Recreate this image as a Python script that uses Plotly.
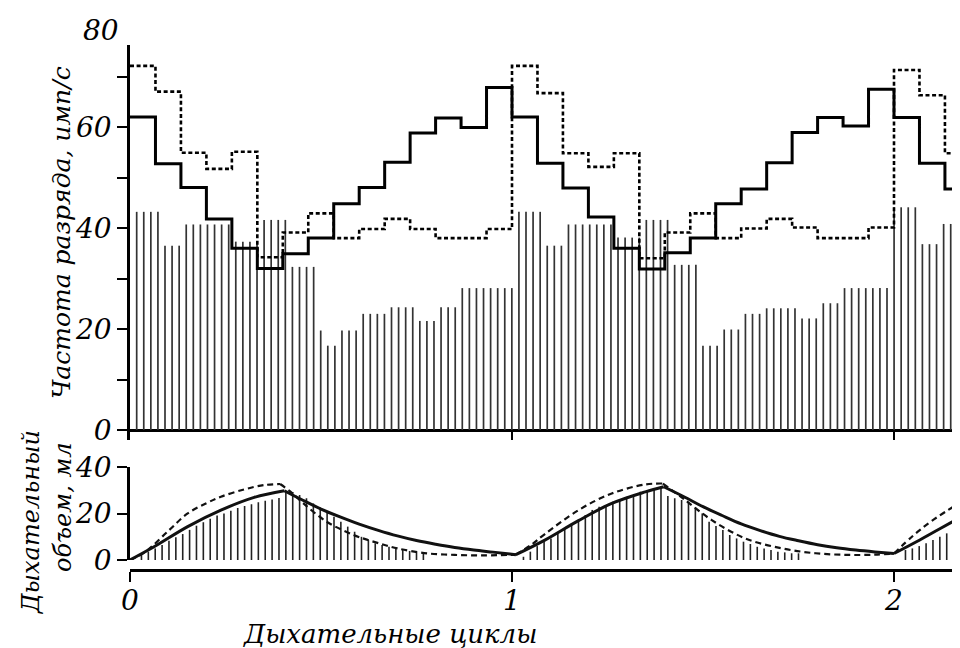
import plotly.graph_objects as go

# ---------------- data ----------------
cycle_ticks = [0, 1, 2]
rate_ticks = [0, 10, 20, 30, 40, 50, 60, 70]
rate_ticktext = ["0", "", "20", "", "40", "", "60", ""]
vol_ticks = [0, 20, 40]

bins_per_cycle = 15  # firing-rate bins per respiratory cycle

# firing rate (imp/s), solid step curve, bin by bin
rate_solid = [62.0, 52.7, 48.0, 41.8, 36.0, 32.0, 34.9, 38.0, 44.8, 48.0, 53.0, 58.8, 61.8, 59.9, 67.8,
              62.0, 52.8, 47.9, 42.2, 36.0, 31.9, 35.1, 38.0, 44.8, 47.7, 52.9, 58.9, 61.9, 60.2, 67.5,
              61.9, 52.8, 47.7]
# firing rate (imp/s), dotted step curve
rate_dotted = [72.1, 67.0, 54.9, 51.7, 55.1, 34.2, 39.1, 42.9, 38.0, 39.8, 41.8, 39.8, 38.0, 38.0, 39.8,
               72.1, 66.7, 54.8, 52.1, 54.8, 34.0, 39.1, 42.9, 38.0, 39.9, 41.8, 40.1, 38.0, 38.0, 40.1,
               71.3, 66.3, 54.8]

# hatched histogram: level of each run of hatch lines and number of lines in the run
spike_levels = [43.2, 36.5, 40.7, 37.3, 41.6, 32.3, 19.7, 16.7, 19.7, 23.0, 24.3, 21.6, 24.3, 28.1,
                43.2, 36.5, 40.7, 38.1, 41.6, 32.7, 16.7, 19.9, 23.0, 24.1, 22.1, 25.1, 28.1,
                44.1, 36.8, 40.8]
spike_counts = [4, 3, 7, 4, 4, 4, 1, 2, 3, 4, 4, 3, 3, 8,
                4, 3, 7, 4, 4, 4, 3, 3, 3, 5, 3, 3, 7,
                4, 3, 3]

# tidal volume hatch lines (ml), one list per respiratory cycle
vol_lines_c1 = [2.2, 3.6, 5.0, 6.5, 8.3, 9.8, 11.2, 13.0, 14.8, 16.3, 17.8, 19.2, 20.1, 21.2,
                22.4, 23.3, 24.1, 24.9, 25.6, 26.1, 26.8, 29.9, 29.3, 28.0, 26.6, 24.4, 22.7, 20.8,
                18.7, 16.5, 14.4, 12.2, 10.0, 8.6, 7.2, 6.5, 5.7, 5.0, 4.3, 3.9, 3.3, 2.9]
vol_lines_c2 = [1.4, 3.6, 6.0, 7.9, 9.3, 11.5, 13.7, 15.8, 17.2, 19.4, 21.6, 23.0, 23.7, 25.1,
                26.1, 27.3, 28.0, 29.4, 30.2, 30.9, 31.6, 27.6, 26.6, 25.9, 25.1, 22.7, 20.1, 16.5,
                14.7, 12.9, 10.8, 9.3, 7.9, 6.9, 5.7, 5.0, 4.3, 3.6, 3.3, 2.9, 2.9]
vol_lines_c3 = [4.3, 5.0, 6.0, 7.2, 8.6, 10.0, 11.5, 12.9]

# tidal volume curves (cycles, ml); None separates the phases (cusps at peaks / troughs)
vol_solid_x = [0.0, 0.063, 0.151, 0.238, 0.325, 0.404, None,
               0.404, 0.45, 0.5, 0.55, 0.6, 0.65, 0.7, 0.75, 0.8, 0.85, 0.9, 0.95, 1.01, None,
               1.01, 1.086, 1.174, 1.261, 1.349, 1.397, None,
               1.397, 1.45, 1.5, 1.55, 1.6, 1.65, 1.7, 1.75, 1.8, 1.85, 1.9, 1.95, 2.0, None,
               2.0, 2.06, 2.12, 2.18]
vol_solid_y = [0.0, 5.7, 14.4, 21.5, 27.0, 29.9, None,
               29.9, 26.0, 22.0, 18.6, 15.5, 12.8, 10.4, 8.4, 6.8, 5.4, 4.3, 3.4, 2.3, None,
               2.3, 8.6, 17.0, 24.4, 29.4, 31.6, None,
               31.6, 27.3, 23.0, 19.2, 15.6, 12.7, 10.2, 8.3, 6.6, 5.3, 4.3, 3.5, 2.8, None,
               2.8, 8.0, 13.5, 19.0]
vol_dashed_x = [0.0, 0.04, 0.1, 0.151, 0.2, 0.238, 0.3, 0.35, 0.393, None,
                0.393, 0.42, 0.454, 0.515, 0.585, 0.62, 0.66, 0.7, 0.77, 0.85, 0.93, 1.01, None,
                1.01, 1.05, 1.086, 1.174, 1.261, 1.349, 1.395, None,
                1.395, 1.453, 1.523, 1.611, 1.707, 1.795, 1.88, 1.95, 2.0, None,
                2.0, 2.05, 2.1, 2.18]
vol_dashed_y = [0.0, 3.5, 12.5, 20.1, 24.5, 27.3, 30.5, 32.3, 32.8, None,
                32.8, 29.5, 24.4, 16.5, 10.8, 8.8, 6.8, 5.0, 3.0, 2.2, 2.0, 2.3, None,
                2.3, 6.5, 11.2, 21.5, 28.7, 32.6, 33.0, None,
                33.0, 25.9, 17.2, 9.3, 5.0, 2.9, 2.2, 2.3, 2.8, None,
                2.8, 10.5, 17.0, 25.5]

# ---------------- geometry / style ----------------
PAGE_OFF = 8                 # default body margin of the html page
W, H = 960 - PAGE_OFF, 648 - PAGE_OFF
ML = 130 - PAGE_OFF          # y axis sits at page x = 130
PX_PER_CYCLE = 382.0
X_RANGE = [0, (W - ML) / PX_PER_CYCLE]
spike_start, spike_step = 0.0175, 0.01853      # hatch spacing in the top panel (cycles)
vline_offset, vline_step = 0.03, 0.018         # hatch spacing in the bottom panel (cycles)

FONT = "DejaVu Serif"
INK = "black"


def pyf(py):          # page pixel row -> paper fraction
    return 1 - (py - PAGE_OFF) / H


def pxf(px):          # page pixel column -> paper fraction
    return (px - PAGE_OFF - ML) / (W - ML)


def step_xy(vals):
    xs = [i / bins_per_cycle for i in range(len(vals))] + [len(vals) / bins_per_cycle]
    ys = list(vals) + [vals[-1]]
    return xs, ys


def segments(xpos, heights):
    xs, ys = [], []
    for x, h in zip(xpos, heights):
        xs += [x, x, None]
        ys += [0, h, None]
    return xs, ys


# top hatch lines
spike_heights = []
for lvl, n in zip(spike_levels, spike_counts):
    spike_heights += [lvl] * n
spike_x = [spike_start + k * spike_step for k in range(len(spike_heights))]
sx, sy = segments(spike_x, spike_heights)

# bottom hatch lines
vx, vy = [], []
for c, arr in enumerate([vol_lines_c1, vol_lines_c2, vol_lines_c3]):
    pos = [c + vline_offset + k * vline_step for k in range(len(arr))]
    a, b = segments(pos, arr)
    vx += a
    vy += b

fig = go.Figure()

fig.add_trace(go.Scatter(x=sx, y=sy, mode="lines", xaxis="x", yaxis="y",
                         line=dict(color="#333", width=1.7), hoverinfo="skip",
                         showlegend=False))
dx, dy = step_xy(rate_dotted)
fig.add_trace(go.Scatter(x=dx, y=dy, mode="lines", line_shape="hv", xaxis="x", yaxis="y",
                         line=dict(color=INK, width=2.6, dash="4px,2.6px"), showlegend=False))
ox, oy = step_xy(rate_solid)
fig.add_trace(go.Scatter(x=ox, y=oy, mode="lines", line_shape="hv", xaxis="x", yaxis="y",
                         line=dict(color=INK, width=3), showlegend=False))

fig.add_trace(go.Scatter(x=vx, y=vy, mode="lines", xaxis="x2", yaxis="y2",
                         line=dict(color="#222", width=1.6), hoverinfo="skip",
                         showlegend=False))
fig.add_trace(go.Scatter(x=vol_dashed_x, y=vol_dashed_y, mode="lines", line_shape="spline",
                         xaxis="x2", yaxis="y2",
                         line=dict(color="#111", width=2.2, dash="6px,4px", smoothing=1.0),
                         showlegend=False))
fig.add_trace(go.Scatter(x=vol_solid_x, y=vol_solid_y, mode="lines", line_shape="spline",
                         xaxis="x2", yaxis="y2",
                         line=dict(color="#111", width=3, smoothing=1.0), showlegend=False))

tickfont = dict(family=FONT, size=28, color=INK, style="italic")

# top panel: axis line runs from 440 px (below 0) up to 45 px; 0 sits at 430 px
top_lo, top_hi, top_zero = 440, 45, 430
y_per_px = 1 / 5.05
yr = [-(top_lo - top_zero) * y_per_px, (top_zero - top_hi) * y_per_px]

fig.update_layout(
    template="none",
    width=W, height=H,
    margin=dict(l=ML, r=0, t=0, b=0, autoexpand=False),
    paper_bgcolor="white", plot_bgcolor="white",
    font=dict(family=FONT, color=INK, style="italic"),
    showlegend=False,
    xaxis=dict(domain=[0, 1], anchor="y", range=X_RANGE, tickvals=cycle_ticks,
               showticklabels=False, ticks="inside", ticklen=10, tickwidth=2.2,
               tickcolor=INK, showline=False, showgrid=False, zeroline=False,
               automargin=False),
    yaxis=dict(domain=[pyf(top_lo), pyf(top_hi)], anchor="x", range=yr,
               tickvals=rate_ticks, ticktext=rate_ticktext, ticks="outside",
               ticklen=10, tickwidth=2.2, tickcolor=INK, tickfont=tickfont,
               showline=True, linewidth=2.6, linecolor=INK, showgrid=False,
               zeroline=True, zerolinewidth=2.6, zerolinecolor=INK, automargin=False),
    xaxis2=dict(domain=[0, 1], anchor="free", position=pyf(570), range=X_RANGE,
                tickvals=cycle_ticks, ticks="outside", ticklen=10, tickwidth=2.2,
                tickcolor=INK, tickfont=tickfont, ticklabelstandoff=-5,
                showline=True, linewidth=2.6,
                linecolor=INK, showgrid=False, zeroline=False, automargin=False),
    yaxis2=dict(domain=[pyf(560), pyf(467.3)], anchor="x2", range=[0, 40],
                tickvals=vol_ticks, ticks="outside", ticklen=10, tickwidth=2.2,
                tickcolor=INK, tickfont=tickfont, showline=True, linewidth=2.6,
                linecolor=INK, showgrid=False, zeroline=False, automargin=False),
)

ann_font = dict(family=FONT, size=25, color=INK, style="italic")
fig.add_annotation(text="80", xref="paper", yref="paper", x=pxf(121), y=pyf(30),
                   xanchor="right", yanchor="middle", showarrow=False, font=tickfont)
fig.add_annotation(text="Частота разряда, имп/с", textangle=-90, xref="paper", yref="paper",
                   x=pxf(61), y=pyf(233), xanchor="center", yanchor="middle",
                   showarrow=False, font=ann_font)
fig.add_annotation(text="Дыхательный", textangle=-90, xref="paper", yref="paper",
                   x=pxf(31), y=pyf(522), xanchor="center", yanchor="middle",
                   showarrow=False, font=dict(family=FONT, size=24, color=INK, style="italic"))
fig.add_annotation(text="объем, мл", textangle=-90, xref="paper", yref="paper",
                   x=pxf(63), y=pyf(507), xanchor="center", yanchor="middle",
                   showarrow=False, font=dict(family=FONT, size=24, color=INK, style="italic"))
fig.add_annotation(text="Дыхательные циклы", xref="paper", yref="paper",
                   x=pxf(390), y=pyf(634), xanchor="center", yanchor="middle",
                   showarrow=False, font=dict(family=FONT, size=26, color=INK, style="italic"))

fig.write_html("out.html")
